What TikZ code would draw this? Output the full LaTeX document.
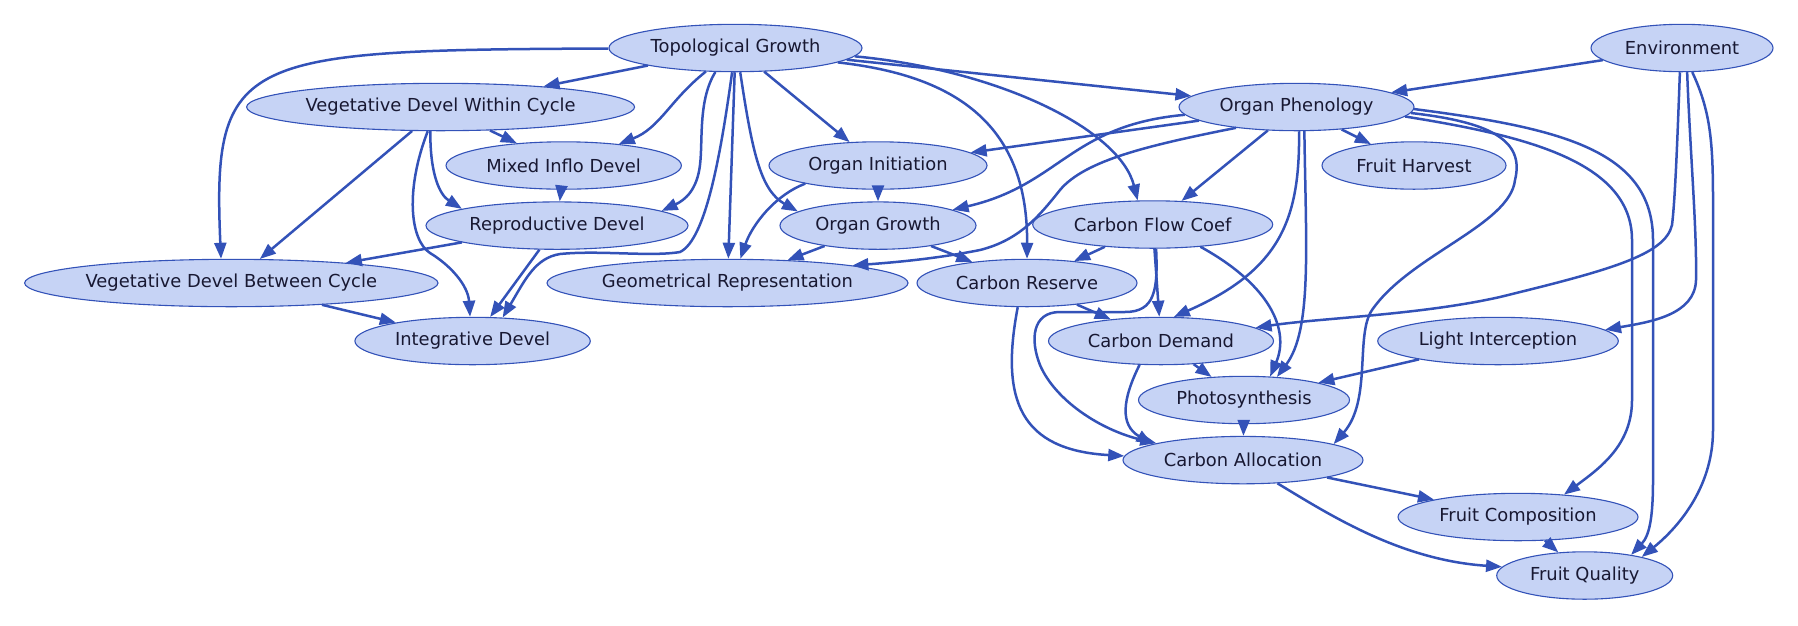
\documentclass[tikz,border=0pt]{standalone}
\usepackage{fontspec}
\setmainfont{DejaVu Sans}
\usepackage{tikz}
\usetikzlibrary{positioning, shapes, arrows.meta}
\definecolor{cFill}{RGB}{198,211,245}
\definecolor{cLine}{RGB}{51,82,184}
\definecolor{cText}{RGB}{24,24,50}

\begin{document}
\begin{tikzpicture}[x=1pt, y=-1pt,
proc/.style={ellipse, draw = cLine, line width = 1.1pt, fill = cFill, inner sep = 0pt, minimum height = 47.4pt, font = \fontsize{17.9}{21}\selectfont, text = cText},
dep/.style={->, draw, line width = 2.5pt, color = cLine, >={Triangle[length=16pt, width=12pt]}}]

\useasboundingbox (0,0) rectangle (1798,625);

\node[proc, minimum width = 253pt] (TG) at (735.5,48) {Topological Growth};
\node[proc, minimum width = 182pt] (Env) at (1682,48) {Environment};
\node[proc, minimum width = 388pt] (VDW) at (440.6,107) {Vegetative Devel Within Cycle};
\node[proc, minimum width = 235pt] (OP) at (1296.5,107) {Organ Phenology};
\node[proc, minimum width = 235.4pt] (MID) at (563.7,165.5) {Mixed Inflo Devel};
\node[proc, minimum width = 218pt] (OI) at (878,165.5) {Organ Initiation};
\node[proc, minimum width = 184pt] (FH) at (1414,165.5) {Fruit Harvest};
\node[proc, minimum width = 262pt, below = 11.6pt of MID, xshift = -6.7pt] (RD) {Reproductive Devel};
\node[proc, minimum width = 196pt, below = 11.6pt of OI] (OG) {Organ Growth};
\node[proc, minimum width = 240pt] (CFC) at (1152.7,224.5) {Carbon Flow Coef};
\node[proc, minimum width = 413.4pt] (VDB) at (231.3,283) {Vegetative Devel Between Cycle};
\node[proc, minimum width = 361pt] (GR) at (727.5,283) {Geometrical Representation};
\node[proc, minimum width = 220pt] (CR) at (1027,283) {Carbon Reserve};
\node[proc, minimum width = 235.4pt] (ID) at (472.6,341) {Integrative Devel};
\node[proc, minimum width = 225pt] (CD) at (1161,341) {Carbon Demand};
\node[proc, minimum width = 240.6pt] (LI) at (1498,341) {Light Interception};
\node[proc, minimum width = 211pt] (PS) at (1244,400) {Photosynthesis};
\node[proc, minimum width = 240pt, below = 11.6pt of PS, xshift = -1pt] (CA) {Carbon Allocation};
\node[proc, minimum width = 240pt] (FC) at (1518,517) {Fruit Composition};
\node[proc, minimum width = 176pt] (FQ) at (1584.7,575.5) {Fruit Quality};

% straight links
\foreach \a/\b in {TG/VDW, TG/OI, TG/GR, TG/OP, VDW/MID, VDW/VDB, MID/RD, RD/VDB, RD/ID, VDB/ID,
                   OI/OG, OG/GR, OG/CR, Env/OP, OP/OI, OP/CFC, OP/FH, CFC/CR, CFC/CD, CR/CD,
                   CD/PS, LI/PS, PS/CA, CA/FC, FC/FQ}
	\path[dep] (\a) to (\b);

% bent links
\path[dep] (TG) .. controls (240,50) and (212,55) .. (VDB.113);
\path[dep] (TG) .. controls (670,100) and (660,128) .. (MID);
\path[dep] (TG.230) .. controls (698,100) and (703,140) .. (700,165) .. controls (697,190) and (685,200) .. (RD.8);
\path[dep] (TG.262) .. controls (720,160) and (705,240) .. (680,252) .. controls (650,257) and (600,250) .. (560,254) .. controls (535,258) and (525,280) .. (ID.38);
\path[dep] (TG.281) .. controls (752,150) and (760,190) .. (OG.170);
\path[dep] (TG.356) .. controls (1000,70) and (1120,130) .. (CFC.122);
\path[dep] (TG.352) .. controls (950,75) and (1028,120) .. (CR.north);

\path[dep] (VDW.247) .. controls (430,175) and (440,195) .. (RD.170);
\path[dep] (VDW.242) .. controls (405,190) and (410,240) .. (430,253) .. controls (450,265) and (468,285) .. (ID.96);
\path[dep] (OI.194) .. controls (775,195) and (752,225) .. (GR.62);

\path[dep] (OP.184) .. controls (1070,125) and (1060,185) .. (OG.12);
\path[dep] (OP.199) .. controls (1150,145) and (1085,160) .. (1060,190) .. controls (1040,215) and (1020,240) .. (980,250) .. controls (940,258) and (900,262) .. (GR.8);
\path[dep] (OP.276) .. controls (1300,220) and (1280,270) .. (CD.62);
\path[dep] (OP.288) .. controls (1306,250) and (1312,330) .. (PS.35);
\path[dep] (OP.357) .. controls (1490,122) and (1525,140) .. (1515,180) .. controls (1510,225) and (1410,255) .. (1372,310) .. controls (1355,335) and (1372,400) .. (CA.10);
\path[dep] (OP.355) .. controls (1520,135) and (1632,160) .. (1632,240) -- (1632,400) .. controls (1632,445) and (1600,468) .. (FC.26);
\path[dep] (OP.359) .. controls (1560,128) and (1653,150) .. (1653,240) -- (1653,480) .. controls (1653,515) and (1650,535) .. (FQ.24);

\path[dep] (Env.265) .. controls (1677,150) and (1675,200) .. (1672,225) .. controls (1665,255) and (1610,270) .. (1500,297) .. controls (1420,315) and (1320,318) .. (CD.8);
\path[dep] (Env.282) .. controls (1690,150) and (1697,230) .. (1696,280) .. controls (1695,315) and (1650,322) .. (LI.6);
\path[dep] (Env.293) .. controls (1710,110) and (1713,140) .. (1713,200) -- (1713,430) .. controls (1713,490) and (1675,530) .. (FQ.18);

\path[dep] (CFC.278) .. controls (1158,290) and (1155,312) .. (1125,312) -- (1060,312) .. controls (1032,312) and (1030,340) .. (1040,365) .. controls (1055,400) and (1100,430) .. (CA.169);
\path[dep] (CFC.335) .. controls (1270,285) and (1290,330) .. (PS.42);
\path[dep] (CR.249) .. controls (1000,400) and (1020,450) .. (CA.178);
\path[dep] (CD.228) .. controls (1122,400) and (1120,425) .. (CA.170);
\path[dep] (CA.326) .. controls (1330,515) and (1400,560) .. (FQ.174);

\end{tikzpicture}
\end{document}
